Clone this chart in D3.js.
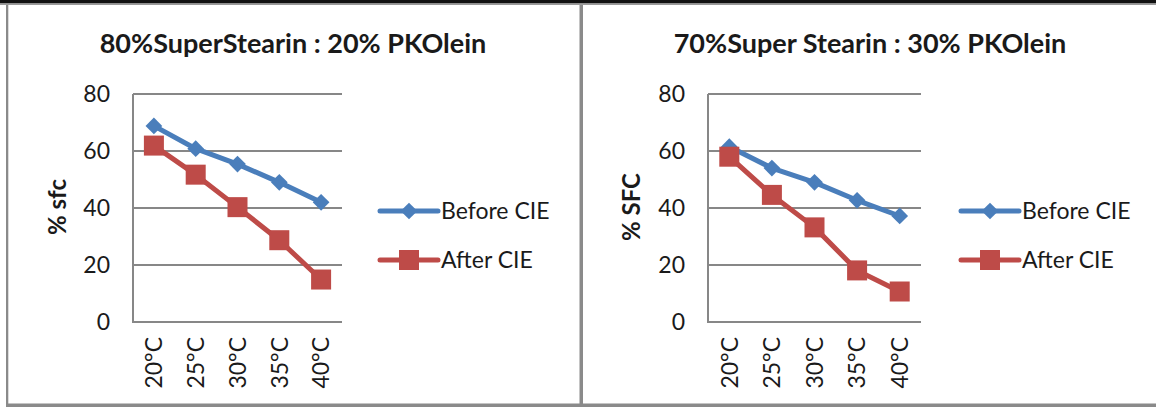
<!DOCTYPE html>
<html><head><meta charset="utf-8">
<script src="https://cdn.jsdelivr.net/npm/d3@7"></script>
<style>
html,body{margin:0;padding:0;background:#fff;}
svg{display:block;}
text{font-family:Lato,"Liberation Sans",sans-serif;fill:#1a1a1a;}
</style></head>
<body>
<svg id="chart" width="1156" height="407"></svg>
<script>
const categories = ["20°C","25°C","30°C","35°C","40°C"];
const seriesNames = ["Before CIE","After CIE"];
const yTicks = [0,20,40,60,80];
const titles = ["80%SuperStearin : 20% PKOlein","70%Super Stearin : 30% PKOlein"];
const yLabels = ["% sfc","% SFC"];
const before1 = [68.8, 60.8, 55.4, 49.0, 42.0];
const after1  = [61.9, 51.7, 40.3, 28.7, 14.9];
const before2 = [61.5, 54.0, 49.0, 42.7, 37.2];
const after2  = [58.0, 44.6, 33.2, 18.1, 10.7];

const colors = ["#4A7EBB","#BE4B48"];
const svg = d3.select("#chart");

// frame
svg.append("rect").attr("x",0).attr("y",0).attr("width",1156).attr("height",3.5).attr("fill","#111");
svg.append("rect").attr("x",0).attr("y",3.5).attr("width",1156).attr("height",1.5).attr("fill","#9a9a9a");
svg.append("rect").attr("x",6).attr("y",5).attr("width",2.3).attr("height",402).attr("fill","#8a8a8a");
svg.append("rect").attr("x",579.5).attr("y",5).attr("width",3.5).attr("height",402).attr("fill","#8a8a8a");
svg.append("rect").attr("x",6).attr("y",403.5).attr("width",1150).attr("height",3.5).attr("fill","#8a8a8a");

const panels = [
  {title:titles[0], ylab:yLabels[0], data:[before1,after1], x0:133, x1:342, titleX:293, ylabX:57, legX:380},
  {title:titles[1], ylab:yLabels[1], data:[before2,after2], x0:708, x1:921, titleX:870, ylabX:631, legX:961}
];

const diamondPath = d3.symbol().type(d3.symbolSquare).size(140)();

panels.forEach(p => {
  const g = svg.append("g");
  const x = d3.scaleBand().domain(categories).range([p.x0, p.x1]);
  const y = d3.scaleLinear().domain([0,80]).range([322, 94]);

  g.append("text").attr("x",p.titleX).attr("y",53).attr("text-anchor","middle")
    .attr("font-weight","bold").attr("font-size",27).text(p.title);

  // gridlines
  g.selectAll(".grid").data(yTicks).enter().append("line")
    .attr("x1",p.x0).attr("x2",p.x1).attr("y1",d=>y(d)).attr("y2",d=>y(d))
    .attr("stroke","#878787").attr("stroke-width",2);
  g.append("line").attr("x1",p.x0).attr("x2",p.x0).attr("y1",y(80)).attr("y2",y(0)+1)
    .attr("stroke","#878787").attr("stroke-width",2);

  // y tick labels
  g.selectAll(".yt").data(yTicks).enter().append("text")
    .attr("x",p.x0-23).attr("y",d=>y(d)).attr("dy","0.36em").attr("text-anchor","end")
    .attr("font-size",23).text(d=>d);

  // x tick labels
  g.selectAll(".xt").data(categories).enter().append("text")
    .attr("transform",d=>`translate(${x(d)+x.bandwidth()/2},337) rotate(-90)`)
    .attr("dy","0.36em").attr("text-anchor","end").attr("font-size",23).text(d=>d);

  // y label
  g.append("text").attr("transform",`translate(${p.ylabX},207) rotate(-90)`)
    .attr("dy","0.36em").attr("text-anchor","middle").attr("font-weight","bold")
    .attr("font-size",24).text(p.ylab);

  const line = d3.line().x((d,i)=>x(categories[i])+x.bandwidth()/2).y(d=>y(d));
  p.data.forEach((vals,si) => {
    g.append("path").attr("d",line(vals)).attr("fill","none").attr("stroke",colors[si])
      .attr("stroke-width",5).attr("stroke-linejoin","round");
  });
  p.data.forEach((vals,si) => {
    vals.forEach((v,i) => {
      const cx = x(categories[i])+x.bandwidth()/2, cy = y(v);
      if (si===0) {
        g.append("path").attr("transform",`translate(${cx},${cy}) rotate(45)`)
          .attr("d",diamondPath).attr("fill",colors[0]);
      } else {
        g.append("rect").attr("x",cx-10).attr("y",cy-10).attr("width",20).attr("height",20).attr("fill",colors[1]);
      }
    });
  });

  // legend
  const legY = [211, 260];
  seriesNames.forEach((name,si) => {
    const ly = legY[si];
    g.append("line").attr("x1",p.legX).attr("x2",p.legX+58).attr("y1",ly).attr("y2",ly)
      .attr("stroke",colors[si]).attr("stroke-width",5).attr("stroke-linecap","round");
    const mx = p.legX+29;
    if (si===0) {
      g.append("path").attr("transform",`translate(${mx},${ly}) rotate(45)`)
        .attr("d",diamondPath).attr("fill",colors[0]);
    } else {
      g.append("rect").attr("x",mx-10).attr("y",ly-10).attr("width",20).attr("height",20).attr("fill",colors[1]);
    }
    g.append("text").attr("x",p.legX+61).attr("y",ly).attr("dy","0.36em")
      .attr("font-size",23).text(name);
  });
});
</script>
</body></html>
